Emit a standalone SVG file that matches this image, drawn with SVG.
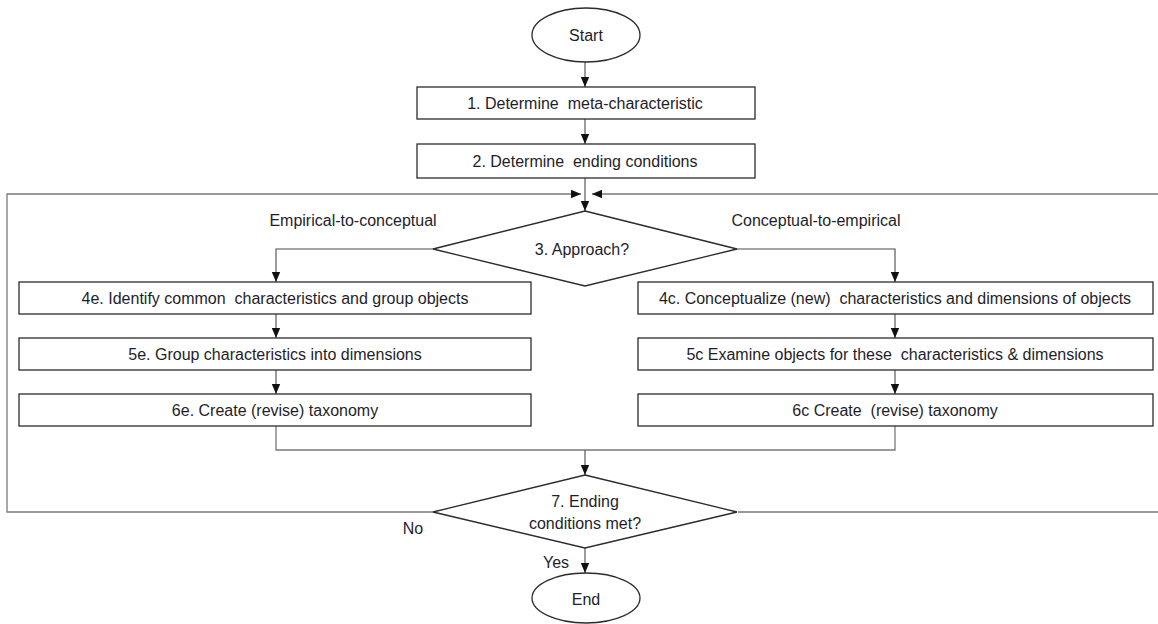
<svg xmlns="http://www.w3.org/2000/svg" width="1158" height="624" viewBox="0 0 1158 624">
<style>
  .box { fill: #ffffff; stroke: #2b2b2b; stroke-width: 1.3; }
  .conn { fill: none; stroke: #4a4a4a; stroke-width: 1.1; }
  .loop { fill: none; stroke: #7a7a7a; stroke-width: 1.3; }
  text { font-family: "Liberation Sans", Arial, sans-serif; font-size: 16px; fill: #1e1e2a; text-anchor: middle; dominant-baseline: central; white-space: pre; }
</style>
<defs>
  <marker id="arr" markerUnits="userSpaceOnUse" markerWidth="10" markerHeight="10" refX="10" refY="5" orient="auto">
    <path d="M0,0.8 L10,5 L0,9.2 Z" fill="#111"/>
  </marker>
</defs>
<rect width="1158" height="624" fill="#ffffff"/>

<g id="connectors">
  <line class="conn" x1="585" y1="62" x2="585" y2="87" marker-end="url(#arr)"/>
  <line class="conn" x1="585" y1="119" x2="585" y2="144" marker-end="url(#arr)"/>
  <line class="conn" x1="585" y1="178" x2="585" y2="211" marker-end="url(#arr)"/>
  <path class="loop" d="M433,512 H7 V194 H581" marker-end="url(#arr)"/>
  <path class="loop" d="M738,512 H1162 V194 H592" marker-end="url(#arr)"/>
  <path class="conn" d="M433,249 H276 V282" marker-end="url(#arr)"/>
  <path class="conn" d="M737,249 H895 V282" marker-end="url(#arr)"/>
  <line class="conn" x1="276" y1="314" x2="276" y2="338" marker-end="url(#arr)"/>
  <line class="conn" x1="276" y1="370" x2="276" y2="394" marker-end="url(#arr)"/>
  <line class="conn" x1="895" y1="314" x2="895" y2="338" marker-end="url(#arr)"/>
  <line class="conn" x1="895" y1="370" x2="895" y2="394" marker-end="url(#arr)"/>
  <path class="loop" d="M276,426 V450 H895 V426"/>
  <line class="conn" x1="585" y1="450" x2="585" y2="475" marker-end="url(#arr)"/>
  <line class="conn" x1="585" y1="548" x2="585" y2="573" marker-end="url(#arr)"/>
  <text x="353" y="220">Empirical-to-conceptual</text>
  <text x="816" y="220">Conceptual-to-empirical</text>
  <text x="413" y="528">No</text>
  <text x="556" y="562">Yes</text>
</g>

<g id="start">
  <ellipse class="box" cx="586" cy="35" rx="54" ry="27"/>
  <text x="586" y="35">Start</text>
</g>
<g id="step1">
  <rect class="box" x="417" y="87" width="338" height="32"/>
  <text x="585" y="103" xml:space="preserve">1. Determine  meta-characteristic</text>
</g>
<g id="step2">
  <rect class="box" x="417" y="144" width="338" height="34"/>
  <text x="585" y="161" xml:space="preserve">2. Determine  ending conditions</text>
</g>
<g id="step3">
  <polygon class="box" points="585,211 737,249 585,286 433,249"/>
  <text x="582" y="249">3. Approach?</text>
</g>
<g id="step4e">
  <rect class="box" x="19" y="282" width="512" height="32"/>
  <text x="275" y="298" xml:space="preserve">4e. Identify common  characteristics and group objects</text>
</g>
<g id="step5e">
  <rect class="box" x="19" y="338" width="512" height="32"/>
  <text x="275" y="354">5e. Group characteristics into dimensions</text>
</g>
<g id="step6e">
  <rect class="box" x="19" y="394" width="512" height="32"/>
  <text x="275" y="410">6e. Create (revise) taxonomy</text>
</g>
<g id="step4c">
  <rect class="box" x="638" y="282" width="515" height="32"/>
  <text x="895" y="298" xml:space="preserve">4c. Conceptualize (new)  characteristics and dimensions of objects</text>
</g>
<g id="step5c">
  <rect class="box" x="638" y="338" width="515" height="32"/>
  <text x="895" y="354" xml:space="preserve">5c Examine objects for these  characteristics &amp; dimensions</text>
</g>
<g id="step6c">
  <rect class="box" x="638" y="394" width="515" height="32"/>
  <text x="895" y="410" xml:space="preserve">6c Create  (revise) taxonomy</text>
</g>
<g id="step7">
  <polygon class="box" points="585,475 737,512 585,548 433,512"/>
  <text x="585" y="501">7. Ending</text>
  <text x="585" y="523">conditions met?</text>
</g>
<g id="end">
  <ellipse class="box" cx="586" cy="598" rx="54" ry="25"/>
  <text x="586" y="599">End</text>
</g>
</svg>
